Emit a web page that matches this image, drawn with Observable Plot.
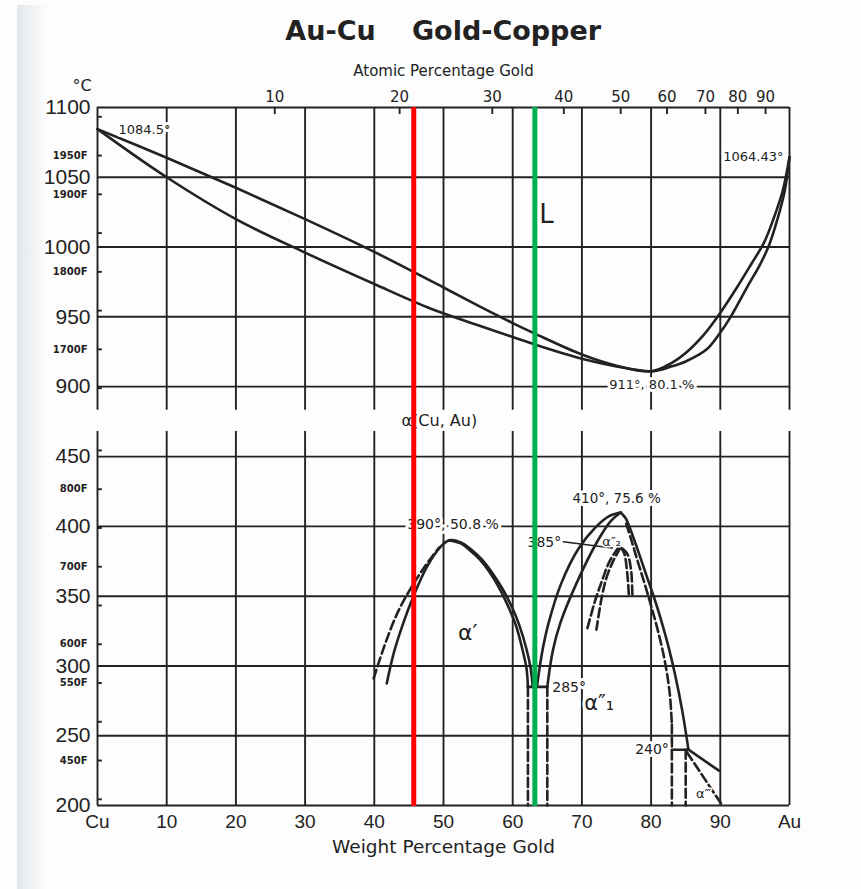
<!DOCTYPE html>
<html>
<head>
<meta charset="utf-8">
<script src="https://cdn.jsdelivr.net/npm/d3@7"></script>
<script src="https://cdn.jsdelivr.net/npm/@observablehq/plot@0.6"></script>
<style>
  html, body { margin: 0; padding: 0; background: #fdfdfd; }
  #wrap { position: relative; width: 861px; height: 889px; overflow: hidden; }
  #edge { position: absolute; left: 17px; top: 5px; bottom: 0; width: 30px;
          background: linear-gradient(to right, #e2e7eb, rgba(253,253,253,0)); }
  #chart { position: absolute; left: 0; top: 0; }
</style>
</head>
<body>
<div id="wrap"><div id="edge"></div><div id="chart"></div></div>
<script>
// ---- Axis values -------------------------------------------------------
const wtTicks = [0, 10, 20, 30, 40, 50, 60, 70, 80, 90, 100];
const wtTickLabels = ["Cu", "10", "20", "30", "40", "50", "60", "70", "80", "90", "Au"];
const atomicTicks = [10, 20, 30, 40, 50, 60, 70, 80, 90];
const tempTicksTop = [900, 950, 1000, 1050, 1100];
const tempTicksBottom = [200, 250, 300, 350, 400, 450];
const fahrenheitTicks = [400, 450, 500, 550, 600, 650, 700, 750, 800, 850,
                         1650, 1700, 1750, 1800, 1850, 1900, 1950, 2000];
const fahrenheitLabels = [450, 550, 600, 700, 800, 1700, 1800, 1900, 1950];

// Temperature range shown in each panel (°C) and the break between them
const topMin = 883;
const bottomMax = 468;
const breakSize = 15.2;

// ---- Invariant points ----------------------------------------------------
const meltCu = 1084.5;
const meltAu = 1064.43;
const minimumMelt = [80.1, 911];
const auCu3Peak = [50.8, 390];
const auCuIPeak = [75.6, 410];
const auCuIIPeak = [75.6, 385];
const eutectoidT = 285;
const peritectoidT = 240;

// ---- Phase boundaries: [weight % Au, °C] -------------------------------
const liquidus = [[0, meltCu], [10, 1064], [20, 1042.5], [30, 1020], [40, 996.5], [50, 971],
  [55, 958], [60, 945.5], [63.2, 938], [70, 923], [75, 915], minimumMelt,
  [83, 917], [85, 924], [87.6, 937], [89.6, 950], [92.4, 971], [94.5, 988], [96.3, 1003],
  [97.6, 1019], [99, 1040], [100, meltAu]];
const solidus = [[0, meltCu], [10, 1050], [20, 1020], [30, 996], [40, 973.5], [48.1, 956],
  [55, 944], [60, 935.5], [63.3, 930], [70, 920], [75, 914.5], minimumMelt,
  [83, 914.5], [85, 918], [88, 926.5], [89.9, 938], [91.5, 950], [93.9, 971.5], [95.8, 988],
  [97.1, 1002], [98.2, 1019], [99.3, 1040], [100, meltAu]];

// AuCu3 (α') ordering dome
const auCu3Outer = [[41.8, 287.5], [42.8, 309], [44.0, 328], [45.7, 350.5], [47.6, 371],
  [49.6, 385.5], auCu3Peak, [52.5, 388.5], [54, 383.5], [55.5, 376.5], [57, 367], [58.5, 355.5],
  [60, 341], [61, 328.5], [62, 312], [62.6, 298], [62.9, eutectoidT]];
const auCu3Inner = [auCu3Peak, [52.4, 388], [53.8, 383], [55.2, 376.5], [56.7, 367], [58.1, 355.5],
  [59.5, 341], [60.5, 328.5], [61.4, 312], [62.0, 298], [62.2, eutectoidT]];
const auCu3Dashed = [[39.9, 291], [41.4, 313.5], [43.3, 337.5], [45.2, 355], [47.4, 372], [49.4, 385]];

// AuCu I (α''1) ordering dome
const auCuILeftOuter = [[63.5, eutectoidT], [64.3, 311], [65.2, 331], [67.0, 359], [69.5, 384],
  [72.0, 399.5], [74.0, 407.5], auCuIPeak];
const auCuILeftInner = [[65.0, eutectoidT], [65.8, 311], [66.9, 331], [69.2, 359], [72.2, 389],
  [74.2, 404], auCuIPeak];
const auCuIRight = [auCuIPeak, [76.3, 406], [77.0, 398], [77.8, 387], [78.7, 374], [79.6, 361],
  [80.5, 348], [81.5, 332], [82.5, 314], [83.5, 293], [84.5, 268], [85.4, peritectoidT]];
const auCuIRightDashed = [[76.4, 402], [77.1, 391], [78.0, 376], [79.0, 360], [80.0, 343],
  [81.0, 325], [82.0, 303], [82.7, 280], [83.0, 258]];

// AuCu II (α''2) region
const auCuIILeftA = [[75.3, 385], [74.0, 375], [72.9, 361], [71.8, 345], [70.8, 327]];
const auCuIILeftB = [auCuIIPeak, [74.6, 376], [73.6, 364], [72.9, 350], [72.1, 326]];
const auCuIIRightA = [auCuIIPeak, [76.1, 381], [76.5, 369], [76.8, 350]];
const auCuIIRightB = [[75.9, 384], [76.6, 380], [77.1, 369], [77.3, 350]];

// Horizontals and verticals at the 285° and 240° reactions
const eutectoidLine = [[62.2, eutectoidT], [65.0, eutectoidT]];
const eutectoidDropLeft = [[62.2, eutectoidT], [62.2, 200]];
const eutectoidDropRight = [[65.0, eutectoidT], [65.0, 200]];
const peritectoidLine = [[83.0, peritectoidT], [85.4, peritectoidT]];
const peritectoidDropLeft = [[83.0, 258], [83.0, 200]];
const peritectoidDropRight = [[85.0, peritectoidT], [85.0, 200]];
// Au3Cu (α''') boundaries
const au3CuSolid = [[85.4, peritectoidT], [89.8, 225]];
const au3CuDashed = [[85.2, 238], [90.3, 200]];
const leader385 = [[67.3, 389], [74.4, 384.5]];

// Reference compositions marked across the diagram (weight % Au)
const redMarkWt = 45.7;
const greenMarkWt = 63.2;

// ---- Helpers --------------------------------------------------------------
const fToC = f => (f - 32) * 5 / 9;
const wtFromAt = a => 100 * a * 196.97 / (a * 196.97 + (100 - a) * 63.546);
// Temperature axis with a break: the range between the two panels is squeezed out
const broken = t => t <= bottomMax ? t - 200
  : t >= topMin ? (bottomMax - 200) + breakSize + (t - topMin)
  : (bottomMax - 200) + breakSize * (t - bottomMax) / (topMin - bottomMax);
const rows = curves => curves.flatMap((pts, id) => pts.map(([wt, t]) => ({id, wt, t})));
const wtLabel = new Map(wtTicks.map((d, i) => [d, wtTickLabels[i]]));
const atomicPositions = atomicTicks.map(wtFromAt);
const atomicLabel = new Map(atomicPositions.map((d, i) => [d, String(atomicTicks[i])]));

const ink = "#222";
const gridW = 1.9;
const curveW = 2.6;
const dash = "9,4";
const numFont = "Liberation Sans, Arial, sans-serif";

const solidRows = rows([liquidus, solidus, auCu3Outer, auCu3Inner, auCuILeftOuter, auCuILeftInner,
  auCuIRight, eutectoidLine, peritectoidLine, au3CuSolid]);
const dashedRows = rows([auCu3Dashed, auCuIRightDashed, auCuIILeftA, auCuIILeftB, auCuIIRightA,
  auCuIIRightB, eutectoidDropLeft, eutectoidDropRight, peritectoidDropLeft, peritectoidDropRight,
  au3CuDashed]);

const halo = {fill: ink, stroke: "white", strokeWidth: 6, paintOrder: "stroke"};
const label = (text, x, y, opts) => Plot.text([text], {x: () => x, y: () => y, ...halo, ...opts});
const heading = (text, opts) => Plot.text([text], {lineAnchor: "middle", fill: ink, ...opts});

const chart = Plot.plot({
  width: 861,
  height: 889,
  marginLeft: 97,
  marginRight: 72,
  marginTop: 107,
  marginBottom: 84,
  x: {domain: [0, 100]},
  y: {type: "linear", transform: broken, domain: [broken(200), broken(1100)]},
  style: {background: "transparent", fontFamily: "DejaVu Sans, sans-serif", color: ink},
  marks: [
    // grid and frame
    Plot.ruleY(tempTicksTop, {y: d => d, x1: 0, x2: 100, stroke: ink, strokeWidth: gridW}),
    Plot.ruleX(wtTicks, {x: d => d, y1: topMin, y2: 1100, stroke: ink, strokeWidth: gridW}),
    Plot.ruleY(tempTicksBottom, {y: d => d, x1: 0, x2: 100, stroke: ink, strokeWidth: gridW}),
    Plot.ruleX(wtTicks, {x: d => d, y1: 200, y2: bottomMax, stroke: ink, strokeWidth: gridW}),
    // Fahrenheit and atomic-percent ticks
    Plot.ruleY(fahrenheitTicks, {y: f => fToC(f), x1: 0, x2: 0.7, stroke: ink, strokeWidth: gridW}),
    Plot.ruleX(atomicPositions, {x: d => d, y1: 1100, y2: 1095, stroke: ink, strokeWidth: gridW}),
    Plot.text(fahrenheitLabels, {x: 0, y: f => fToC(f), text: f => f + "F", textAnchor: "end",
      dx: -10, fontSize: 10, fontWeight: "bold", fill: ink}),

    // phase boundaries
    Plot.line(solidRows, {x: "wt", y: "t", z: "id", curve: "catmull-rom", stroke: ink, strokeWidth: curveW}),
    Plot.line(dashedRows, {x: "wt", y: "t", z: "id", curve: "catmull-rom", stroke: ink,
      strokeWidth: curveW, strokeDasharray: dash}),
    Plot.line(leader385, {x: d => d[0], y: d => d[1], stroke: ink, strokeWidth: 1.6}),

    // point annotations
    label(meltCu + "°", 0, meltCu, {textAnchor: "start", dx: 21, dy: 1, fontSize: 13}),
    label(meltAu + "°", 100, meltAu, {textAnchor: "end", dx: -6, fontSize: 13}),
    label(`${minimumMelt[1]}°, ${minimumMelt[0]} %`, minimumMelt[0], minimumMelt[1], {dy: 14, fontSize: 13}),
    label(`${auCu3Peak[1]}°, ${auCu3Peak[0]} %`, auCu3Peak[0], auCu3Peak[1], {dx: 4, dy: -16, fontSize: 14}),
    label(`${auCuIPeak[1]}°, ${auCuIPeak[0]} %`, auCuIPeak[0], auCuIPeak[1], {dx: -4, dy: -14, fontSize: 13.5}),
    label(auCuIIPeak[1] + "°", leader385[0][0], leader385[0][1], {textAnchor: "end", dx: -2, dy: 1, fontSize: 14}),
    label(eutectoidT + "°", eutectoidLine[1][0], eutectoidT, {textAnchor: "start", dx: 5, dy: 1, fontSize: 14}),
    label(peritectoidT + "°", peritectoidLine[0][0], peritectoidT, {textAnchor: "end", dx: -3, dy: 0, fontSize: 14}),

    // phase field names
    label("L", 64.9, 1023, {fontSize: 26}),
    label("α(Cu, Au)", 49.4, topMin, {dy: 11, fontSize: 16}),
    label("α′", 53.5, 324, {fontSize: 22}),
    label("α″₁", 72.5, 273, {fontSize: 21}),
    label("α″₂", 74.3, 389, {fontSize: 13, strokeWidth: 3}),
    label("α‴", 87.6, 208.5, {fontSize: 13, strokeWidth: 3}),

    // axes
    Plot.axisY([...tempTicksBottom, ...tempTicksTop], {anchor: "left", tickSize: 0, tickPadding: 7,
      fontSize: 21, fontFamily: numFont, tickFormat: d => String(d), label: null, fill: ink}),
    Plot.axisX(wtTicks, {anchor: "bottom", tickSize: 0, tickPadding: 9, fontSize: 19, fontFamily: numFont,
      tickFormat: d => wtLabel.get(d), label: null, fill: ink}),
    Plot.axisX(atomicPositions, {anchor: "top", tickSize: 0, tickPadding: 6, fontSize: 15,
      tickFormat: d => atomicLabel.get(d), label: null, fill: ink}),

    // titles
    heading("Au-Cu", {frameAnchor: "top", dx: -113, dy: -76, fontSize: 27, fontWeight: "bold"}),
    heading("Gold-Copper", {frameAnchor: "top", dx: 63, dy: -76, fontSize: 27, fontWeight: "bold"}),
    heading("Atomic Percentage Gold", {frameAnchor: "top", dy: -36, fontSize: 15}),
    heading("Weight Percentage Gold", {frameAnchor: "bottom", dy: 42, fontSize: 18.5}),
    heading("°C", {frameAnchor: "top-left", dx: -25, dy: -22, fontSize: 16}),

    // marked compositions
    Plot.ruleX([redMarkWt], {x: d => d, y1: 200, y2: 1100, insetTop: 1, stroke: "#ff0000", strokeWidth: 5}),
    Plot.ruleX([greenMarkWt], {x: d => d, y1: 200, y2: 1100, insetTop: 1, stroke: "#00b050", strokeWidth: 5})
  ]
});

document.getElementById("chart").appendChild(chart);
</script>
</body>
</html>
